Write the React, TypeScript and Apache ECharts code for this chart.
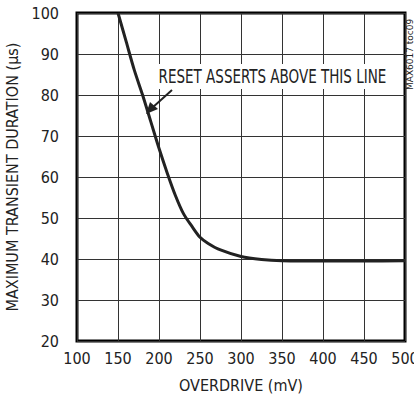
import React, { useEffect, useRef } from "react";
import * as echarts from "echarts";

const overdrive = [150, 160, 170, 180, 190, 200, 210, 220, 230, 240, 250, 260, 275, 300, 325, 350, 400, 450, 500];
const duration = [100, 93, 86, 80, 73.5, 67, 61, 55.5, 51, 48, 45.3, 43.8, 42.2, 40.6, 39.9, 39.6, 39.5, 39.5, 39.6];
const xTicks = { min: 100, max: 500, interval: 50 };
const yTicks = { min: 20, max: 100, interval: 10 };
const annotation = "RESET ASSERTS ABOVE THIS LINE";
const figureId = "MAX6017 toc09";

const FONT = "'Liberation Sans Narrow', 'DejaVu Sans Condensed', 'Roboto Condensed', sans-serif";

export default function App() {
  const ref = useRef<HTMLDivElement>(null);
  useEffect(() => {
    const chart = echarts.init(ref.current!, null, { renderer: "svg" });
    chart.setOption({
      animation: false,
      backgroundColor: "#fff",
      grid: {
        left: 77,
        top: 13,
        right: 9,
        bottom: 61,
        outerBoundsMode: "none",
        containLabel: false,
        show: true,
        borderColor: "#000",
        borderWidth: 3,
        backgroundColor: "transparent",
      },
      xAxis: {
        type: "value",
        min: xTicks.min,
        max: xTicks.max,
        interval: xTicks.interval,
        name: "OVERDRIVE (mV)",
        nameLocation: "middle",
        nameGap: 36,
        nameTextStyle: { fontFamily: FONT, fontSize: 16, color: "#222" },
        axisLine: { show: false },
        axisTick: { show: false },
        axisLabel: { fontFamily: FONT, fontSize: 16, color: "#222", margin: 9 },
        splitLine: { show: true, lineStyle: { color: "#333", width: 1 } },
      },
      yAxis: {
        type: "value",
        min: yTicks.min,
        max: yTicks.max,
        interval: yTicks.interval,
        name: "MAXIMUM TRANSIENT DURATION (µs)",
        nameLocation: "middle",
        nameGap: 54,
        nameTextStyle: { fontFamily: FONT, fontSize: 16, color: "#222" },
        axisLine: { show: false },
        axisTick: { show: false },
        axisLabel: { fontFamily: FONT, fontSize: 16, color: "#222", margin: 18 },
        splitLine: { show: true, lineStyle: { color: "#333", width: 1 } },
      },
      series: [
        {
          type: "line",
          data: overdrive.map((x, i) => [x, duration[i]]),
          smooth: 0.3,
          showSymbol: false,
          lineStyle: { color: "#222", width: 3 },
          z: 5,
        },
      ],
      graphic: [
        {
          type: "text",
          x: 157,
          y: 64,
          scaleX: 0.79,
          z: 10,
          style: {
            text: annotation,
            fontFamily: FONT,
            fontSize: 19,
            fill: "#222",
            backgroundColor: "#fff",
            padding: [3, 2, 3, 2],
          },
        },
        {
          type: "line",
          z: 10,
          shape: { x1: 172, y1: 90, x2: 152, y2: 108 },
          style: { stroke: "#222", lineWidth: 2 },
        },
        {
          type: "polygon",
          z: 10,
          shape: { points: [[146, 114], [150, 102], [158, 109]] },
          style: { fill: "#222" },
        },
        {
          type: "text",
          x: 410,
          y: 90,
          rotation: Math.PI / 2,
          scaleX: 1.25,
          z: 10,
          style: { text: figureId, fontFamily: FONT, fontSize: 8, fill: "#222", verticalAlign: "middle" },
        },
      ],
    });
    return () => chart.dispose();
  }, []);
  return <div ref={ref} style={{ position: "absolute", left: 0, top: 0, width: 414, height: 402 }} />;
}
